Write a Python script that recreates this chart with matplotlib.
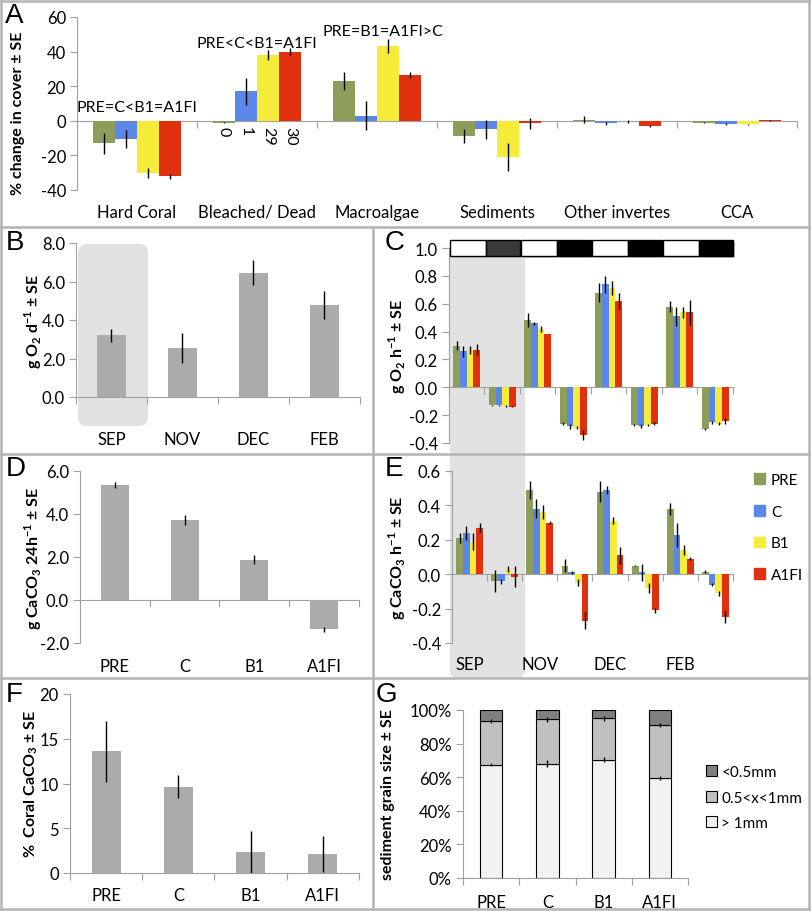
import numpy as np
import matplotlib.pyplot as plt
from matplotlib.patches import Rectangle, FancyBboxPatch, Patch
from matplotlib.transforms import blended_transform_factory

plt.rcParams['font.family'] = ['Lato', 'DejaVu Sans']
plt.rcParams['mathtext.fontset'] = 'custom'
plt.rcParams['mathtext.rm'] = 'Lato'
plt.rcParams['mathtext.bf'] = 'Lato:bold'

W, H = 812, 912

treatments = ['PRE', 'C', 'B1', 'A1FI']
tr_colors = ['#8D9E5B', '#5B88E8', '#F5EC3A', '#E0300E']
BAR_GRAY = '#ABABAB'
AX_GRAY = '#A0A0A0'

# A - % change in benthic cover
cover_cats = ['Hard Coral', 'Bleached/ Dead', 'Macroalgae', 'Sediments', 'Other invertes', 'CCA']
cover = [
    [-13, -1, 23, -9, 0.5, -1],        # PRE
    [-10.5, 17, 3, -5, -1.5, -2],      # C
    [-30, 38, 43, -21, -0.3, -2],      # B1
    [-32, 40, 26.5, -1.5, -3, 0.2],    # A1FI
]
cover_se = [
    [6, 0.4, 5, 4, 2, 0.4],
    [5, 8, 8.5, 5.5, 1, 0.5],
    [3, 3, 4, 8, 1, 0.4],
    [1.5, 2, 1.5, 3, 0.8, 0.5],
]
bleach_counts = ['0', '1', '29', '30']

# B - net O2 production per day
months = ['SEP', 'NOV', 'DEC', 'FEB']
o2_day = [3.2, 2.55, 6.45, 4.78]
o2_day_se = [0.35, 0.8, 0.65, 0.75]

# C - O2 flux per hour, day/night for each month
o2_hour = [
    [0.30, -0.13, 0.48, -0.26, 0.68, -0.27, 0.58, -0.30],
    [0.26, -0.13, 0.46, -0.28, 0.74, -0.28, 0.51, -0.25],
    [0.27, -0.135, 0.42, -0.29, 0.71, -0.27, 0.54, -0.26],
    [0.27, -0.14, 0.38, -0.34, 0.62, -0.26, 0.54, -0.24],
]
o2_hour_se = [
    [0.03, 0.005, 0.05, 0.01, 0.07, 0.01, 0.04, 0.01],
    [0.04, 0.005, 0.01, 0.02, 0.06, 0.015, 0.07, 0.01],
    [0.03, 0.005, 0.02, 0.01, 0.05, 0.01, 0.04, 0.01],
    [0.04, 0.005, 0.0, 0.035, 0.06, 0.01, 0.09, 0.02],
]

# D - calcification per 24h
caco3_day = [5.35, 3.72, 1.87, -1.37]
caco3_day_se = [0.15, 0.22, 0.2, 0.12]

# E - calcification per hour, day/night for each month
caco3_hour = [
    [0.21, -0.04, 0.49, 0.05, 0.48, 0.05, 0.38, 0.015],
    [0.24, -0.04, 0.38, 0.01, 0.49, 0.01, 0.23, -0.06],
    [0.19, 0.03, 0.36, -0.05, 0.31, -0.08, 0.14, -0.11],
    [0.27, -0.015, 0.30, -0.27, 0.11, -0.21, 0.09, -0.25],
]
caco3_hour_se = [
    [0.03, 0.065, 0.05, 0.04, 0.06, 0.005, 0.035, 0.01],
    [0.04, 0.015, 0.055, 0.01, 0.025, 0.05, 0.07, 0.01],
    [0.05, 0.015, 0.04, 0.02, 0.02, 0.03, 0.03, 0.015],
    [0.025, 0.06, 0.01, 0.05, 0.05, 0.015, 0.01, 0.035],
]

# F - % coral CaCO3
coral_caco3 = [13.6, 9.65, 2.3, 2.15]
coral_caco3_se = [3.4, 1.3, 2.35, 2.0]

# G - sediment grain size (%)
grain_labels = ['> 1mm', '0.5<x<1mm', '<0.5mm']
grain_gt1 = [67.5, 68, 70.5, 59.5]
grain_mid = [26, 26.5, 24.5, 31.5]
grain_lt05 = [6.5, 5.5, 5, 9]
grain_gt1_se = [1, 2, 1.5, 1]
grain_mid_se = [1, 1.5, 1.5, 1]
grain_colors = ['#F2F2F2', '#C0C0C0', '#808080']

fig = plt.figure(figsize=(W / 100, H / 100), dpi=100)

# background layer in pixel coordinates
bg = fig.add_axes([0, 0, 1, 1], zorder=0)
bg.set_xlim(0, W)
bg.set_ylim(H, 0)
bg.axis('off')

SHADE = '#E2E2E2'
bg.add_patch(FancyBboxPatch((78, 245), 70, 182, boxstyle='round,pad=0,rounding_size=9',
                            fc=SHADE, ec='none'))
bg.add_patch(FancyBboxPatch((450, 250), 75, 430, boxstyle='round,pad=0,rounding_size=9',
                            fc=SHADE, ec='none'))

BORDER = '#B4B4B4'
for y in [2, 228, 455, 679, 910]:
    bg.plot([1, 810], [y, y], color=BORDER, lw=1.8, zorder=5)
bg.plot([1, 1], [2, 910], color=BORDER, lw=1.8, zorder=5)
bg.plot([809, 809], [2, 910], color=BORDER, lw=1.8, zorder=5)
bg.plot([373, 373], [228, 910], color=BORDER, lw=1.8, zorder=5)

for letter, x, y in [('A', 5, 3), ('B', 6, 230), ('C', 385, 230), ('D', 6, 456),
                     ('E', 385, 456), ('F', 6, 682), ('G', 376, 682)]:
    bg.text(x, y, letter, fontsize=20, family='Liberation Sans', va='top', ha='left')


def make_ax(l, t, r, b, n, ylim, yticks, yfmt):
    ax = fig.add_axes([l / W, 1 - b / H, (r - l) / W, (b - t) / H], zorder=2)
    ax.set_facecolor('none')
    for s in ['top', 'right']:
        ax.spines[s].set_visible(False)
    ax.spines['left'].set_color(AX_GRAY)
    ax.spines['bottom'].set_color(AX_GRAY)
    ax.spines['bottom'].set_position(('data', 0))
    ax.set_xlim(-0.5, n - 0.5)
    ax.set_xticks(np.arange(n + 1) - 0.5)
    ax.set_ylim(*ylim)
    ax.set_yticks(yticks)
    ax.set_yticklabels([yfmt(v) for v in yticks])
    ax.tick_params(axis='y', colors=AX_GRAY, labelcolor='black', length=5, labelsize=12, pad=3)
    ax.tick_params(axis='x', colors=AX_GRAY, length=5, labelbottom=False)
    return ax


def cat_labels(ax, labels, positions, yfrac, size=12):
    trans = blended_transform_factory(ax.transData, ax.transAxes)
    for p, lab in zip(positions, labels):
        ax.text(p, yfrac, lab, transform=trans, ha='center', va='center', fontsize=size)


def grouped(ax, values, errs, width):
    x = np.arange(len(values[0]))
    for k in range(4):
        ax.bar(x + (k - 1.5) * width, values[k], width, color=tr_colors[k],
               yerr=errs[k], error_kw=dict(ecolor='black', elinewidth=1, capsize=0), zorder=3)


def ylabel(x, y, text, size=11.5):
    bg.text(x, y, text, rotation=90, ha='center', va='center', fontsize=size, fontweight='bold')


ebar = dict(ecolor='black', elinewidth=1, capsize=0)

# ---- A
ax_a = make_ax(77, 18, 797, 191, 6, (-40, 60), [-40, -20, 0, 20, 40, 60], lambda v: f'{v}')
grouped(ax_a, cover, cover_se, 0.185)
cat_labels(ax_a, cover_cats, range(6), -0.127)
ax_a.text(0, 8, 'PRE=C<B1=A1FI', ha='center', va='center', fontsize=11.5)
ax_a.text(1, 45, 'PRE<C<B1=A1FI', ha='center', va='center', fontsize=11.5)
ax_a.text(2.05, 52, 'PRE=B1=A1FI>C', ha='center', va='center', fontsize=11.5)
for k, lab in enumerate(bleach_counts):
    ax_a.text(1 + (k - 1.5) * 0.185, -3, lab, rotation=-90, ha='center', va='top', fontsize=11.5)
ylabel(18, 113, '% change in cover ± SE', 11.5)

# ---- B
ax_b = make_ax(76, 244, 360, 398, 4, (0, 8), [0, 2, 4, 6, 8], lambda v: f'{v:.1f}')
ax_b.bar(range(4), o2_day, 0.4, color=BAR_GRAY, yerr=o2_day_se, error_kw=ebar, zorder=3)
cat_labels(ax_b, months, range(4), -0.27)
ylabel(33, 321, r'g O$_\mathbf{2}$ d$^\mathbf{-1}$ ± SE')

# ---- C
ax_c = make_ax(449, 249, 733, 444, 8, (-0.4, 1.0), np.round(np.arange(-0.4, 1.01, 0.2), 1),
               lambda v: f'{v:.1f}')
grouped(ax_c, o2_hour, o2_hour_se, 0.19)
for i in range(8):
    pair, night = divmod(i, 2)
    x0 = 2 * pair - 0.47 + night * 1.0
    fc = ('#3A3A3A' if pair == 0 else 'black') if night else 'white'
    ax_c.add_patch(Rectangle((x0 + 0.06, 0.93), 0.98, 0.115, fc='#C8C8C8', ec='none',
                             clip_on=False, zorder=3))
    ax_c.add_patch(Rectangle((x0, 0.943), 0.98 if night else 1.0, 0.114, fc=fc, ec='black',
                             lw=1, clip_on=False, zorder=4))
ylabel(397, 346, r'g O$_\mathbf{2}$ h$^\mathbf{-1}$ ± SE')

# ---- D
ax_d = make_ax(80, 472, 359, 644, 4, (-2, 6), [-2, 0, 2, 4, 6], lambda v: f'{v:.1f}')
ax_d.bar(range(4), caco3_day, 0.4, color=BAR_GRAY, yerr=caco3_day_se, error_kw=ebar, zorder=3)
cat_labels(ax_d, treatments, range(4), -0.134)
ylabel(33, 558, r'g CaCO$_\mathbf{3}$ 24h$^\mathbf{-1}$ ± SE')

# ---- E
ax_e = make_ax(452, 472, 733, 644, 8, (-0.4, 0.6), np.round(np.arange(-0.4, 0.61, 0.2), 1),
               lambda v: f'{v:.1f}')
grouped(ax_e, caco3_hour, caco3_hour_se, 0.19)
cat_labels(ax_e, months, [0, 2, 4, 6], -0.122)
ylabel(397, 558, r'g CaCO$_\mathbf{3}$ h$^\mathbf{-1}$ ± SE')
fig.legend(handles=[Patch(color=c) for c in tr_colors], labels=treatments,
           loc='upper left', bbox_to_anchor=(748 / W, 1 - 468 / H), frameon=False,
           handlelength=0.7, handleheight=0.7, handletextpad=0.4, labelspacing=1.15,
           fontsize=11, borderaxespad=0)

# ---- F
ax_f = make_ax(70, 695, 359, 874, 4, (0, 20), [0, 5, 10, 15, 20], lambda v: f'{v}')
ax_f.bar(range(4), coral_caco3, 0.4, color=BAR_GRAY, yerr=coral_caco3_se, error_kw=ebar, zorder=3)
cat_labels(ax_f, treatments, range(4), -0.123)
ylabel(31, 784, r'%  Coral CaCO$_\mathbf{3}$ ± SE')

# ---- G
ax_g = make_ax(463, 711, 688, 879, 4, (0, 100), [0, 20, 40, 60, 80, 100], lambda v: f'{v}%')
x = np.arange(4)
bot2 = np.array(grain_gt1)
bot3 = bot2 + np.array(grain_mid)
ax_g.bar(x, grain_gt1, 0.4, color=grain_colors[0], edgecolor='black', lw=0.8, zorder=3,
         yerr=grain_gt1_se, error_kw=ebar)
ax_g.bar(x, grain_mid, 0.4, bottom=bot2, color=grain_colors[1], edgecolor='black', lw=0.8,
         zorder=3)
ax_g.errorbar(x, bot3, yerr=grain_mid_se, fmt='none', ecolor='black', elinewidth=1, zorder=4)
ax_g.bar(x, grain_lt05, 0.4, bottom=bot3, color=grain_colors[2], edgecolor='black', lw=0.8,
         zorder=3)
cat_labels(ax_g, treatments, range(4), -0.143)
ylabel(388, 795, 'sediment grain size ± SE')
fig.legend(handles=[Patch(fc=c, ec='black', lw=0.8) for c in grain_colors[::-1]],
           labels=grain_labels[::-1], loc='upper left', bbox_to_anchor=(700 / W, 1 - 760 / H),
           frameon=False, handlelength=0.7, handleheight=0.7, handletextpad=0.3,
           labelspacing=0.75, fontsize=11, borderaxespad=0)

fig.savefig('out.png', dpi=100)
